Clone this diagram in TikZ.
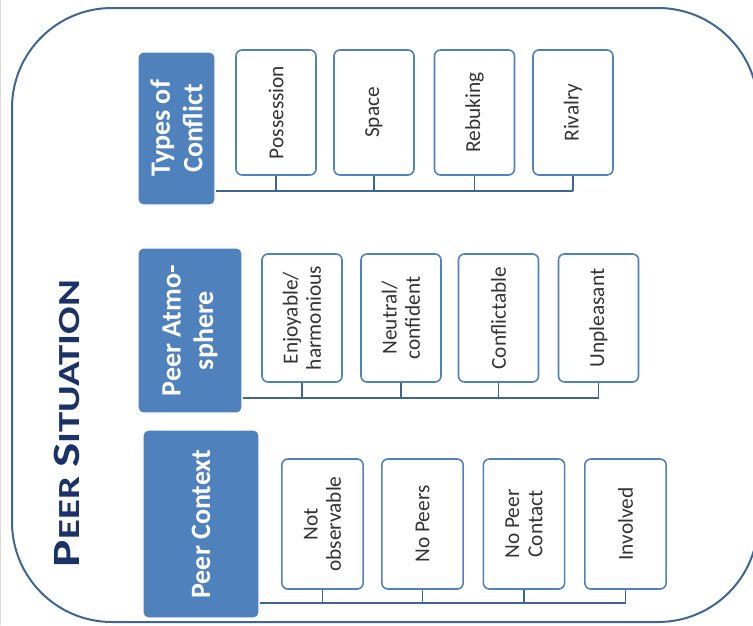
\documentclass[tikz,border=0pt]{standalone}
\usepackage{fontspec}
\setmainfont{Carlito}
\usepackage{xcolor}
\usepackage{tikz}
\usetikzlibrary{positioning}

\definecolor{hdrblue}{RGB}{79,129,189}
\definecolor{linkblue}{RGB}{62,102,148}
\definecolor{navy}{RGB}{26,50,104}
\newcommand{\titlecap}[1]{{\fontsize{29}{29}\selectfont #1}}

\begin{document}
\begin{tikzpicture}[
  x=0.75pt, y=-0.75pt,
  hdr/.style={rotate=90, fill=hdrblue, draw=white, line width=0.8pt,
              rounded corners=4pt, align=center, text=white, inner sep=2pt,
              font=\fontsize{21}{24.5}\selectfont\bfseries},
  item/.style={rotate=90, draw=hdrblue, fill=white, line width=1.2pt,
               rounded corners=4.5pt, align=center, text=black!80, inner sep=2pt,
               minimum width=95pt, minimum height=60pt,
               font=\fontsize{16}{17.5}\selectfont},
  link/.style={draw=linkblue, line width=1.3pt},
  frame/.style={draw=linkblue, line width=1.5pt, rounded corners=75pt}
]
    \useasboundingbox (0,0) rectangle (753,625);
    \draw[black!15, line width=1pt] (0.5,0) -- (0.5,625);

    % Outer frame and title
    \draw[frame] (12,8) rectangle (758,622);
    \node[rotate=90, text=navy, font=\fontsize{23}{23}\selectfont\bfseries]
      (title) at (67,423.5) {\scalebox{1.33}[1]{\titlecap{P}EER \titlecap{S}ITUATION}};

    % Headers
    \node[hdr, minimum width=114.75pt, minimum height=57.75pt] (tc) at (176.5,128.5) {Types of\\Conflict};
    \node[hdr, minimum width=123.75pt, minimum height=78pt]    (pa) at (190,330.5)   {Peer Atmo-\\sphere};
    \node[hdr, minimum width=141pt,    minimum height=87pt]    (pc) at (201,524)     {Peer Context};

    % Types of conflict
    \node[item, minimum width=93.75pt] (poss) at (276,112.5)   {Possession};
    \node[item, minimum width=93.75pt] (spc)  at (374,112.5)   {Space};
    \node[item, minimum width=93.75pt] (reb)  at (474.5,112.5) {Rebuking};
    \node[item, minimum width=93.75pt] (riv)  at (573,112.5)   {Rivalry};

    % Peer atmosphere
    \node[item, minimum width=96pt] (enj) at (302,318)   {Enjoyable/\\harmonious};
    \node[item, minimum width=96pt] (neu) at (401,318)   {Neutral/\\confident};
    \node[item, minimum width=96pt] (cfl) at (498.5,318) {Conflictable};
    \node[item, minimum width=96pt] (unp) at (598.5,318) {Unpleasant};

    % Peer context
    \node[item, minimum width=97.5pt, minimum height=61pt] (nobs) at (322.5,524) {Not\\observable};
    \node[item, minimum width=97.5pt, minimum height=61pt] (nop)  at (422.5,524) {No Peers};
    \node[item, minimum width=97.5pt, minimum height=61pt] (nopc) at (524,524)   {No Peer\\Contact};
    \node[item, minimum width=97.5pt, minimum height=61pt] (inv)  at (625.5,524) {Involved};

    % Bus lines
    \coordinate (cbus) at (0,191);
    \coordinate (abus) at (0,398);
    \coordinate (xbus) at (0,603);

    \draw[link] (tc.south |- cbus) -- (riv.west |- cbus);
    \draw[link] (poss.west) -- (poss.west |- cbus);
    \draw[link] (spc.west)  -- (spc.west |- cbus);
    \draw[link] (reb.west)  -- (reb.west |- cbus);
    \draw[link] (riv.west)  -- (riv.west |- cbus);

    \draw[link] (pa.south |- abus) -- (unp.west |- abus);
    \draw[link] (enj.west) -- (enj.west |- abus);
    \draw[link] (neu.west) -- (neu.west |- abus);
    \draw[link] (cfl.west) -- (cfl.west |- abus);
    \draw[link] (unp.west) -- (unp.west |- abus);

    \draw[link] (pc.south |- xbus) -- (inv.west |- xbus);
    \draw[link] (nobs.west) -- (nobs.west |- xbus);
    \draw[link] (nop.west)  -- (nop.west |- xbus);
    \draw[link] (nopc.west) -- (nopc.west |- xbus);
    \draw[link] (inv.west)  -- (inv.west |- xbus);
\end{tikzpicture}
\end{document}
